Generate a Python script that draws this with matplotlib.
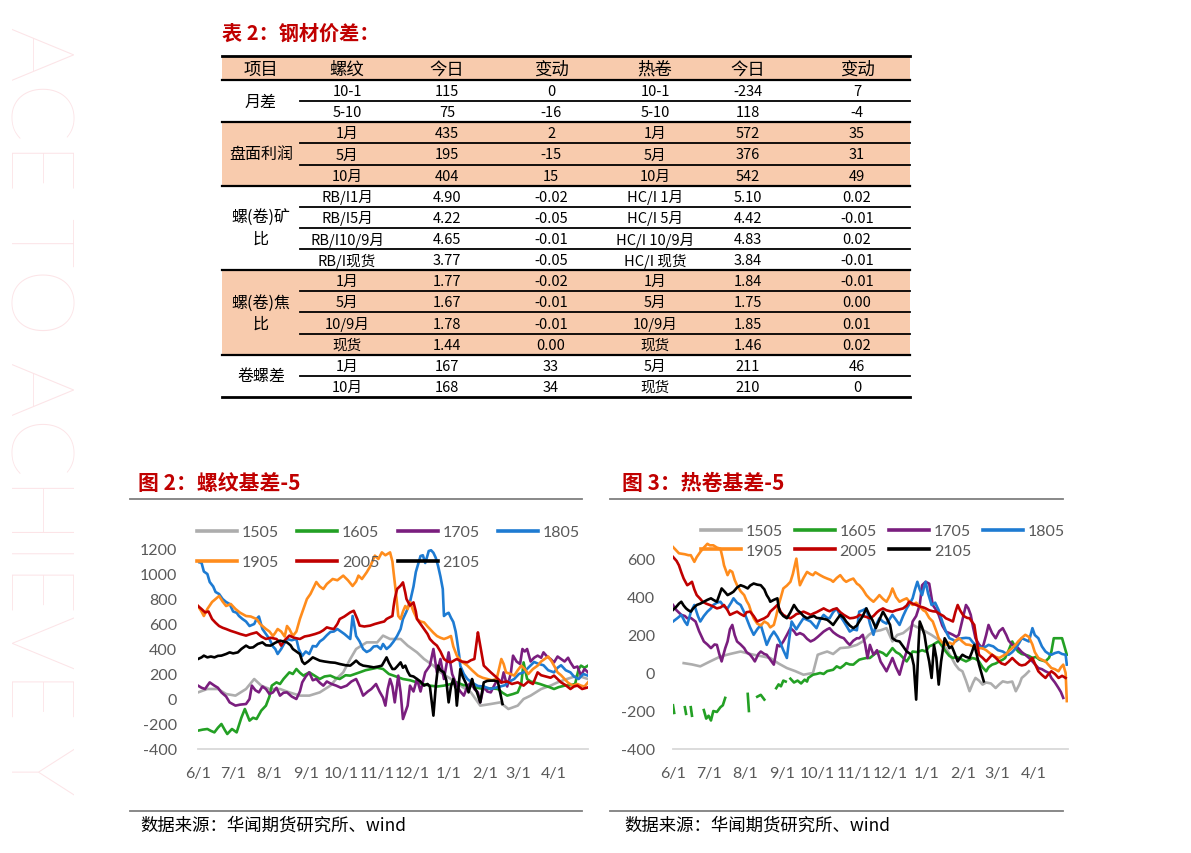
import matplotlib
matplotlib.use("Agg")
import matplotlib.pyplot as plt
from matplotlib.patches import Rectangle
import numpy as np

plt.rcParams['font.family'] = ['Noto Sans CJK SC', 'DejaVu Sans']

W, H = 1191, 854

# ---------------- 表 2 数据 ----------------
table_header = ["项目", "螺纹", "今日", "变动", "热卷", "今日", "变动"]
group_names = ["月差", "盘面利润", "螺(卷)矿\n比", "螺(卷)焦\n比", "卷螺差"]
group_sizes = [2, 3, 4, 4, 2]
group_shaded = [False, True, False, True, False]
table_rows = [
    ["10-1", "115", "0", "10-1", "-234", "7"],
    ["5-10", "75", "-16", "5-10", "118", "-4"],
    ["1月", "435", "2", "1月", "572", "35"],
    ["5月", "195", "-15", "5月", "376", "31"],
    ["10月", "404", "15", "10月", "542", "49"],
    ["RB/I1月", "4.90", "-0.02", "HC/I 1月", "5.10", "0.02"],
    ["RB/I5月", "4.22", "-0.05", "HC/I 5月", "4.42", "-0.01"],
    ["RB/I10/9月", "4.65", "-0.01", "HC/I 10/9月", "4.83", "0.02"],
    ["RB/I现货", "3.77", "-0.05", "HC/I 现货", "3.84", "-0.01"],
    ["1月", "1.77", "-0.02", "1月", "1.84", "-0.01"],
    ["5月", "1.67", "-0.01", "5月", "1.75", "0.00"],
    ["10/9月", "1.78", "-0.01", "10/9月", "1.85", "0.01"],
    ["现货", "1.44", "0.00", "现货", "1.46", "0.02"],
    ["1月", "167", "33", "5月", "211", "46"],
    ["10月", "168", "34", "现货", "210", "0"],
]

# ---------------- 基差数据 (距6/1的天数, 数值) ----------------
month_days = [0, 30, 61, 92, 122, 153, 183, 214, 245, 273, 304]
month_labels = ["6/1", "7/1", "8/1", "9/1", "10/1", "11/1", "12/1", "1/1", "2/1", "3/1", "4/1"]
contracts = ["1505", "1605", "1705", "1805", "1905", "2005", "2105"]
line_colors = ["#ADADAD", "#23A024", "#7A1E7E", "#1E7BD2", "#FF8C1C", "#C00000", "#000000"]

rb_1505 = [(0,53),(8,80),(17,80),(24,40),(32,27),(41,80),(48,160),(54,107),(61,80),(70,80),(78,53),(87,27),(95,27),
           (104,53),(113,107),(118,160),(124,213),(130,320),(135,400),(144,453),(153,453),(158,507),(164,480),(173,480),
           (179,427),(187,373),(193,320),(201,267),(207,213),(216,160),(224,107),(233,53),(241,-53),(250,-40),(258,-27),
           (265,-80),(273,-53),(278,0),(284,27),(293,80),(301,107),(307,133),(315,160),(324,187),(333,160)]
rb_1605 = [(0,-253),(4,-245),(8,-240),(11,-255),(14,-267),(17,-230),(20,-200),(23,-250),(25,-280),(29,-240),(33,-267),
           (37,-150),(40,-80),(44,-173),(47,-150),(50,-160),(54,-93),(58,-53),(61,20),(63,107),(67,133),(70,120),(73,160),
           (78,213),(81,200),(84,240),(87,210),(90,187),(95,213),(99,190),(104,160),(108,180),(113,187),(117,170),(121,160),
           (126,190),(130,187),(134,200),(138,213),(143,230),(148,240),(153,250),(158,240),(163,200),(167,187),(175,160),
           (181,150),(187,133),(192,120),(198,107),(204,100),(210,107),(216,120),(221,133),(227,110),(233,107),(238,90),
           (244,80),(250,85),(256,80),(260,50),(264,27),(269,40),(273,53),(276,120),(278,293),(281,160),(284,140),(287,133),
           (292,120),(296,107),(300,95),(304,80),(308,95),(313,107),(318,110),(322,120),(325,240),(327,267),(330,250),(333,267)]
rb_1705 = [(0,107),(3,90),(6,80),(10,133),(14,107),(17,90),(20,53),(24,20),(27,-27),(32,-53),(36,-45),(41,-40),(44,0),
           (46,107),(49,70),(52,53),(55,100),(58,80),(61,40),(64,53),(67,90),(70,27),(73,50),(76,53),(80,20),(84,0),(87,60),
           (89,133),(92,180),(95,213),(98,150),(101,160),(104,130),(107,107),(110,140),(114,120),(118,107),(122,90),(127,107),
           (131,140),(135,160),(138,100),(141,27),(145,60),(148,80),(152,120),(155,60),(158,10),(160,-53),(162,80),(164,160),
           (166,100),(168,-27),(171,187),(173,53),(175,-160),(179,-53),(181,107),(184,60),(187,160),(190,60),(194,213),
           (198,267),(201,400),(204,213),(207,320),(210,160),(214,373),(217,200),(221,107),(224,60),(227,27),(230,100),
           (233,133),(236,80),(239,53),(241,-27),(244,100),(247,60),(250,53),(253,110),(256,160),(259,130),(261,213),
           (264,100),(267,200),(269,347),(272,300),(275,280),(277,400),(279,380),(281,400),(284,300),(287,330),(290,347),
           (293,330),(295,373),(298,340),(301,320),(304,293),(307,340),(310,320),(313,300),(316,330),(318,293),(321,250),
           (324,260),(327,187),(330,240),(333,213)]
rb_1805 = [(0,1096),(3,1090),(5,1020),(8,1000),(10,936),(13,900),(15,856),(18,840),(21,800),(24,776),(27,760),(30,700),
           (33,690),(35,664),(38,640),(41,620),(44,584),(48,600),(50,640),(52,660),(55,560),(58,520),(61,480),(64,420),
           (66,400),(68,360),(71,400),(74,450),(76,480),(80,470),(84,480),(86,400),(89,344),(92,380),(95,360),(98,424),
           (101,420),(104,460),(107,480),(110,510),(113,536),(116,540),(119,560),(122,540),(125,520),(127,504),(130,480),
           (132,664),(134,560),(135,504),(138,460),(141,400),(144,376),(147,390),(150,420),(153,424),(156,400),(158,440),
           (161,400),(164,424),(167,460),(170,504),(173,560),(175,640),(178,700),(181,776),(184,900),(186,1016),(188,1080),
           (190,1144),(192,1150),(194,1088),(196,1150),(197,1184),(199,1190),(201,1170),(203,1130),(205,1064),(207,980),
           (209,880),(210,664),(212,680),(214,690),(216,650),(218,616),(220,540),(221,480),(223,350),(224,264),(227,200),
           (230,160),(234,130),(239,104),(244,100),(250,80),(254,90),(258,100),(262,110),(266,140),(270,160),(274,200),
           (278,213),(282,250),(287,296),(291,280),(295,270),(299,230),(304,213),(307,250),(310,270),(314,230),(318,213),
           (321,180),(325,160),(329,200),(333,187)]
rb_1905 = [(0,744),(3,700),(5,664),(8,720),(12,776),(15,800),(18,824),(21,780),(24,744),(28,760),(32,720),(36,690),
           (41,664),(45,660),(50,640),(53,600),(55,584),(58,560),(61,540),(64,504),(66,530),(68,560),(71,540),(74,500),
           (76,584),(78,560),(81,504),(84,540),(87,640),(90,720),(93,800),(96,840),(101,936),(104,900),(107,880),(110,920),
           (115,960),(119,950),(124,987),(128,950),(132,904),(135,940),(137,987),(140,960),(144,1013),(147,1060),(151,1147),
           (154,1120),(157,1173),(160,1150),(164,1173),(166,1100),(167,1013),(169,850),(171,664),(173,640),(175,700),
           (177,744),(179,720),(181,776),(184,700),(187,640),(190,620),(193,613),(196,580),(198,560),(201,530),(204,504),
           (207,490),(210,480),(213,490),(216,504),(218,420),(221,347),(225,300),(230,267),(234,230),(239,187),(243,170),
           (247,160),(251,150),(255,160),(259,320),(261,280),(263,213),(267,200),(270,187),(273,230),(276,267),(279,240),
           (282,200),(286,240),(290,267),(293,300),(296,320),(299,340),(302,300),(305,250),(307,213),(310,190),(313,160),
           (316,130),(320,107),(324,120),(327,107),(330,100),(333,133)]
rb_2005 = [(0,744),(3,720),(6,693),(9,700),(12,640),(15,610),(18,584),(21,570),(24,560),(28,545),(32,533),(36,520),
           (41,507),(45,520),(50,533),(54,500),(58,480),(62,490),(67,480),(69,460),(71,427),(74,470),(78,507),(82,490),
           (87,480),(91,500),(95,507),(100,520),(104,533),(107,550),(110,573),(113,565),(116,560),(119,600),(121,640),
           (125,660),(130,693),(133,706),(136,640),(138,587),(142,580),(147,587),(151,600),(156,613),(159,620),(161,640),
           (163,650),(166,664),(167,740),(168,800),(170,880),(173,907),(175,933),(177,850),(178,800),(181,747),(184,773),
           (186,700),(187,640),(190,600),(193,560),(196,520),(198,480),(201,450),(204,427),(207,380),(210,320),(213,300),
           (216,293),(219,310),(221,320),(225,300),(230,293),(233,310),(236,320),(239,533),(240,480),(241,427),(244,267),
           (247,240),(250,213),(254,180),(259,133),(264,140),(268,120),(273,133),(278,107),(282,140),(286,120),(290,213),
           (293,190),(297,180),(301,170),(304,187),(307,160),(310,133),(314,110),(318,80),(321,100),(324,107),(328,80),(333,93)]
rb_2105 = [(0,320),(3,333),(5,347),(8,333),(11,340),(14,333),(17,345),(20,347),(24,360),(27,373),(30,365),(34,373),
           (37,400),(41,427),(44,410),(47,413),(51,440),(55,453),(58,430),(62,427),(66,450),(70,467),(73,460),(76,453),
           (79,430),(81,400),(84,380),(87,360),(89,300),(91,280),(94,300),(98,333),(101,320),(104,307),(108,300),(113,293),
           (117,290),(121,280),(126,270),(130,267),(133,290),(135,307),(138,280),(141,267),(146,260),(150,253),(154,260),
           (157,267),(159,300),(161,333),(163,290),(166,240),(168,240),(170,260),(173,293),(175,250),(177,267),(179,220),
           (181,187),(184,180),(187,160),(190,140),(193,107),(196,120),(198,100),(201,-133),(203,100),(205,267),(207,230),
           (210,213),(212,150),(214,-27),(216,100),(218,160),(220,80),(221,-53),(223,150),(224,240),(226,180),(229,120),
           (231,53),(233,120),(234,160),(236,90),(238,60),(241,-27),(243,80),(244,133),(247,145),(250,147),(253,147),
           (256,140),(258,50),(260,-40)]

hc_1505 = [(9,52),(16,45),(23,35),(31,60),(40,87),(48,100),(57,113),(62,105),(68,96),(75,88),(82,79),(89,50),(96,26),
           (103,10),(110,-9),(118,0),(122,96),(126,105),(130,113),(135,100),(141,131),(148,135),(155,148),(160,166),
           (165,200),(169,218),(175,225),(180,236),(185,166),(189,200),(194,210),(198,230),(202,253),(208,235),(213,218),
           (218,200),(222,183),(226,160),(230,131),(234,90),(238,44),(241,20),(244,9),(247,-40),(250,-96),(253,-50),
           (255,-26),(258,-40),(261,-61),(264,-50),(268,-55),(272,-79),(275,-60),(278,-44),(282,-50),(286,-45),(289,-96),
           (292,-60),(294,-26),(297,-10),(300,9)]
hc_1605 = [(0,-170),(1,-210),(2,None),(10,-180),(11,-215),(12,None),(15,-180),(16,-225),(17,None),
           (26,-195),(28,-240),(30,-225),(32,-250),(34,-200),(37,-205),(40,-180),(42,-170),(44,-131),(45,None),
           (63,-110),(64,-200),(65,None),(71,-125),(74,-115),(77,-140),(78,None),
           (87,-80),(89,-60),(91,-70),(93,-40),(95,-45),(96,None),
           (99,-30),(102,-50),(105,-40),(108,-55),(111,-35),(113,-45),
           (114,-26),(118,-9),(121,-5),(124,0),(127,-5),(130,10),(135,17),(138,35),(141,26),(144,40),(146,52),(149,45),
           (152,44),(155,60),(157,70),(160,75),(163,79),(166,79),(170,100),(174,113),(177,105),(180,90),(185,131),(188,110),
           (191,100),(194,80),(197,61),(200,90),(202,113),(206,110),(210,120),(213,113),(216,140),(219,148),(222,160),
           (224,166),(227,140),(230,113),(233,90),(236,79),(239,85),(241,79),(244,70),(247,61),(250,70),(252,79),(255,75),
           (258,60),(261,30),(264,9),(266,30),(269,44),(272,50),(275,61),(278,70),(280,79),(283,120),(286,166),(289,130),
           (291,113),(294,100),(297,96),(300,90),(303,79),(306,85),(309,70),(314,61),(317,80),(319,113),(321,183),(325,183),
           (328,183),(330,140),(332,96)]
hc_1705 = [(0,358),(3,330),(7,306),(10,300),(12,288),(15,290),(19,271),(22,220),(26,166),(29,150),(32,131),(35,150),
           (37,148),(39,100),(41,61),(44,130),(46,166),(48,230),(50,253),(52,200),(54,166),(57,150),(60,131),(62,110),
           (65,96),(67,80),(69,61),(72,100),(74,113),(77,100),(79,96),(82,70),(85,44),(88,148),(90,140),(93,166),(96,200),
           (99,236),(102,220),(104,201),(107,210),(110,201),(113,180),(116,166),(119,175),(122,190),(127,218),(130,230),
           (132,236),(135,215),(138,201),(141,190),(144,183),(147,160),(149,148),(152,170),(155,183),(157,183),(160,201),
           (162,150),(164,79),(166,148),(169,96),(172,120),(175,60),(177,40),(180,9),(183,50),(185,79),(188,30),(191,-9),
           (194,60),(197,113),(200,200),(202,271),(205,300),(208,358),(210,462),(213,480),(216,470),(219,358),(222,330),
           (224,306),(227,250),(230,218),(233,210),(236,201),(239,190),(241,201),(244,280),(247,358),(249,340),(251,306),
           (253,240),(255,183),(258,150),(261,131),(264,200),(266,253),(269,210),(272,183),(275,220),(278,236),(281,200),
           (283,170),(286,148),(289,140),(291,131),(294,110),(297,96),(300,80),(303,61),(306,40),(308,26),(311,20),(314,9),
           (317,0),(319,-26),(322,-50),(325,-79),(327,-100),(329,-131)]
hc_1805 = [(0,271),(4,290),(7,306),(10,270),(12,253),(15,320),(18,358),(21,300),(23,271),(26,300),(29,323),(32,340),
           (34,358),(37,370),(40,375),(43,350),(46,340),(49,370),(51,393),(54,370),(57,358),(60,320),(62,288),(65,240),
           (68,201),(71,230),(74,253),(77,190),(79,148),(82,190),(85,218),(88,190),(90,166),(93,120),(96,79),(98,180),
           (100,271),(102,250),(104,230),(107,260),(110,288),(113,280),(116,271),(119,250),(121,236),(124,280),(127,306),
           (130,290),(132,288),(135,320),(138,340),(141,300),(144,271),(147,240),(149,218),(152,230),(155,225),(157,323),
           (160,330),(163,340),(166,260),(169,201),(171,250),(174,288),(177,270),(180,260),(185,306),(188,280),(191,253),
           (194,300),(197,340),(200,370),(202,393),(204,440),(206,480),(208,440),(210,410),(212,460),(213,480),(215,420),
           (218,358),(221,370),(224,330),(227,271),(230,220),(233,183),(236,175),(238,166),(241,180),(244,183),(247,185),
           (250,183),(253,160),(255,148),(258,140),(261,131),(264,140),(266,148),(270,140),(274,120),(278,113),(280,105),
           (283,96),(286,110),(289,130),(292,160),(294,183),(297,175),(300,166),(303,236),(305,200),(308,183),(311,140),
           (314,113),(317,100),(319,96),(322,105),(325,110),(328,100),(331,96),(332,44)]
hc_1905 = [(0,663),(2,650),(5,630),(7,628),(10,625),(13,620),(15,620),(18,585),(20,610),(23,637),(26,660),(29,680),
           (31,672),(34,672),(37,660),(40,654),(42,600),(43,567),(46,515),(48,540),(50,532),(52,490),(54,462),(57,430),
           (60,410),(62,380),(64,358),(66,320),(68,288),(71,260),(74,250),(77,271),(80,260),(82,240),(85,253),(87,300),
           (89,358),(91,400),(93,445),(96,460),(99,480),(101,520),(104,602),(106,500),(107,462),(110,500),(113,532),
           (116,520),(118,515),(120,530),(124,515),(127,505),(130,497),(133,490),(135,480),(138,500),(141,515),(144,490),
           (146,480),(149,490),(152,497),(155,470),(157,462),(160,440),(163,410),(166,390),(169,375),(172,395),(174,410),
           (177,390),(180,375),(183,410),(185,445),(188,400),(191,375),(194,385),(197,393),(200,370),(202,358),(205,370),
           (208,350),(211,330),(213,323),(216,290),(219,271),(222,220),(224,183),(227,160),(230,148),(233,160),(236,150),
           (238,170),(241,183),(244,165),(247,150),(250,148),(253,140),(256,135),(258,131),(261,130),(264,120),(267,105),
           (269,96),(272,85),(275,79),(278,90),(281,100),(283,115),(286,131),(289,150),(291,166),(294,185),(297,201),
           (300,190),(303,150),(305,110),(308,79),(311,70),(314,61),(317,40),(319,26),(322,20),(325,9),(327,30),(329,44),
           (331,0),(332,-148)]
hc_2005 = [(0,611),(3,590),(5,567),(7,530),(9,497),(12,462),(14,470),(16,480),(18,440),(20,410),(23,390),(25,375),
           (28,365),(31,358),(34,350),(37,340),(40,345),(43,358),(46,330),(48,306),(51,315),(54,323),(57,310),(60,300),
           (62,320),(65,323),(68,300),(71,271),(74,280),(77,288),(80,300),(82,323),(85,340),(88,358),(91,320),(93,306),
           (96,295),(99,288),(102,300),(104,310),(107,315),(110,323),(113,315),(116,306),(119,315),(121,320),(124,330),
           (127,340),(130,330),(132,325),(135,335),(138,340),(141,320),(144,306),(147,295),(149,288),(152,290),(155,295),
           (157,306),(160,300),(163,295),(166,288),(169,300),(172,320),(174,330),(177,340),(180,330),(183,325),(185,323),
           (188,330),(191,335),(194,340),(197,355),(199,375),(202,365),(205,358),(208,350),(211,345),(213,340),(216,330),
           (219,325),(222,323),(225,310),(228,300),(230,288),(233,280),(236,271),(238,320),(240,358),(242,330),(245,300),
           (248,290),(250,288),(252,270),(254,253),(256,170),(258,96),(261,80),(264,61),(266,75),(269,96),(272,80),(275,61),
           (277,50),(280,44),(283,60),(286,79),(289,60),(292,44),(294,40),(297,44),(300,60),(303,79),(305,50),(308,9),
           (311,-10),(314,-26),(316,-10),(319,9),(322,-5),(325,-26),(328,-15),(331,-26)]
hc_2105 = [(0,332),(3,350),(5,365),(7,375),(9,355),(11,340),(13,330),(15,323),(17,340),(20,358),(23,365),(26,375),
           (29,385),(32,393),(34,385),(37,375),(39,410),(41,445),(44,425),(46,410),(49,420),(51,428),(54,450),(57,462),
           (60,455),(63,445),(65,460),(68,471),(71,465),(74,462),(77,440),(79,410),(81,390),(82,375),(85,385),(88,393),
           (89,350),(90,323),(93,300),(96,288),(99,320),(102,358),(105,330),(107,320),(110,300),(113,288),(116,295),
           (119,300),(121,290),(124,288),(127,285),(130,280),(132,270),(135,253),(138,280),(141,306),(144,290),(146,271),
           (149,250),(152,236),(155,250),(157,271),(160,300),(163,340),(166,300),(168,280),(171,236),(174,280),(177,323),
           (180,290),(183,253),(185,183),(188,170),(191,166),(194,140),(197,113),(199,105),(201,96),(203,40),(205,-140),
           (207,150),(208,271),(210,240),(212,201),(214,120),(216,60),(218,-26),(219,60),(220,148),(222,80),(224,-61),
           (226,60),(229,183),(231,160),(233,131),(235,140),(237,110),(240,61),(242,80),(244,96),(247,85),(250,79),
           (252,110),(254,148),(256,100),(258,44),(260,0),(262,-44)]

rb_series = [rb_1505, rb_1605, rb_1705, rb_1805, rb_1905, rb_2005, rb_2105]
hc_series = [hc_1505, hc_1605, hc_1705, hc_1805, hc_1905, hc_2005, hc_2105]

RED = "#C00000"
GREY_TXT = "#595959"
SHADE = "#F8CBAD"


def px_rect(l, t, r, b):
    return [l / W, 1 - b / H, (r - l) / W, (b - t) / H]


fig = plt.figure(figsize=(W / 100, H / 100), dpi=100)
bg = fig.add_axes([0, 0, 1, 1], zorder=0)
bg.set_xlim(0, W)
bg.set_ylim(H, 0)
bg.axis("off")

# 水印
bg.text(34, 26, "ACE TO ACHIEVE Y", rotation=-90, ha="center", va="top",
        fontsize=63, color="#FCE4E7", family=["Lato", "DejaVu Sans"], fontweight="light")

# ---------------- 表格 ----------------
bg.text(222, 33, "表 2：钢材价差：", color=RED, fontsize=14.5, fontweight="bold", va="center", ha="left")

tl, tr, inner_l = 222, 910, 300
col_x = [261, 347, 447, 551, 655, 748, 857]
top, head_b, bottom = 57, 81, 398
row_h = (bottom - head_b) / len(table_rows)

bg.add_patch(Rectangle((tl, top), tr - tl, head_b - top, color=SHADE, lw=0))
for x, t in zip(col_x, table_header):
    bg.text(x, (top + head_b) / 2 + 1, t, ha="center", va="center", fontsize=12.5)

r = 0
for name, n, shaded in zip(group_names, group_sizes, group_shaded):
    y0 = head_b + r * row_h
    y1 = y0 + n * row_h
    if shaded:
        bg.add_patch(Rectangle((tl, y0), tr - tl, y1 - y0, color=SHADE, lw=0))
    bg.text(col_x[0], (y0 + y1) / 2, name, ha="center", va="center", fontsize=11.5,
            linespacing=1.3, multialignment="center")
    for k in range(n):
        yc = y0 + (k + 0.5) * row_h
        for x, t in zip(col_x[1:], table_rows[r + k]):
            bg.text(x, yc + 0.5, t, ha="center", va="center", fontsize=10.5)
        if k > 0:
            bg.plot([inner_l, tr], [y0 + k * row_h] * 2, color="black", lw=1.3)
    bg.plot([tl, tr], [y1, y1], color="black", lw=1.6 if r + n < len(table_rows) else 2)
    r += n
bg.plot([tl, tr], [top, top], color="black", lw=2)
bg.plot([tl, tr], [head_b, head_b], color="black", lw=1.6)


# ---------------- 基差图 ----------------
def draw_chart(rect, series, ymax, yticks, title, title_x, rule, ytick_pad, ncol_space, row_space, legend_xy):
    ax = fig.add_axes(rect, zorder=2)
    ax.patch.set_alpha(0)
    handles = []
    for name, pts, c in zip(contracts, series, line_colors):
        d = np.array([p[0] for p in pts], dtype=float)
        v = np.array([p[1] for p in pts], dtype=float)
        h, = ax.plot(d, v, color=c, lw=1.9, label=name, solid_joinstyle="round")
        handles.append(h)
    ax.set_ylim(-400, ymax)
    ax.set_xlim(0, 333)
    ax.set_yticks(yticks)
    ax.set_yticklabels([str(t) for t in yticks])
    ax.set_xticks(month_days)
    ax.set_xticklabels(month_labels)
    for s in ["top", "right", "left"]:
        ax.spines[s].set_visible(False)
    ax.spines["bottom"].set_color("#D9D9D9")
    ax.spines["bottom"].set_linewidth(1.3)
    ax.tick_params(axis="y", length=0, pad=ytick_pad, labelcolor=GREY_TXT, labelsize=11.5)
    ax.tick_params(axis="x", length=0, pad=12, labelcolor=GREY_TXT, labelsize=11.5)
    for lab in ax.get_xticklabels() + ax.get_yticklabels():
        lab.set_family(["Lato", "DejaVu Sans"])
    order = [0, 4, 1, 5, 2, 6, 3]
    leg = ax.legend([handles[i] for i in order], [contracts[i] for i in order], ncol=4,
                    loc="upper left", bbox_to_anchor=(legend_xy[0] / W, 1 - legend_xy[1] / H),
                    bbox_transform=fig.transFigure, frameon=False, borderpad=0, borderaxespad=0,
                    handlelength=2.5, handletextpad=0.3, columnspacing=ncol_space, labelspacing=row_space,
                    prop={"family": ["Lato", "DejaVu Sans"], "size": 11.5}, labelcolor=GREY_TXT)
    for lh in leg.get_lines():
        lh.set_linewidth(2.6)
    bg.text(title_x, 484, title, color=RED, fontsize=15, fontweight="bold", va="center", ha="left")
    bg.plot(rule, [500, 500], color="#7F7F7F", lw=1.3)
    bg.plot(rule, [812, 812], color="#7F7F7F", lw=1.3)
    bg.text(title_x + 2, 826, "数据来源：华闻期货研究所、wind", fontsize=12.5, va="center", ha="left")
    return ax


draw_chart(px_rect(198, 525, 588, 750), rb_series, 1400, list(range(-400, 1201, 200)),
           "图 2：螺纹基差-5", 138, [130, 582], 15, 1.15, 1.0, (197, 526))
draw_chart(px_rect(673, 529.6, 1068, 750), hc_series, 760, list(range(-400, 601, 200)),
           "图 3：热卷基差-5", 622, [610, 1063], 13, 0.75, 0.35, (701, 525))

fig.savefig("out.png", dpi=100)
